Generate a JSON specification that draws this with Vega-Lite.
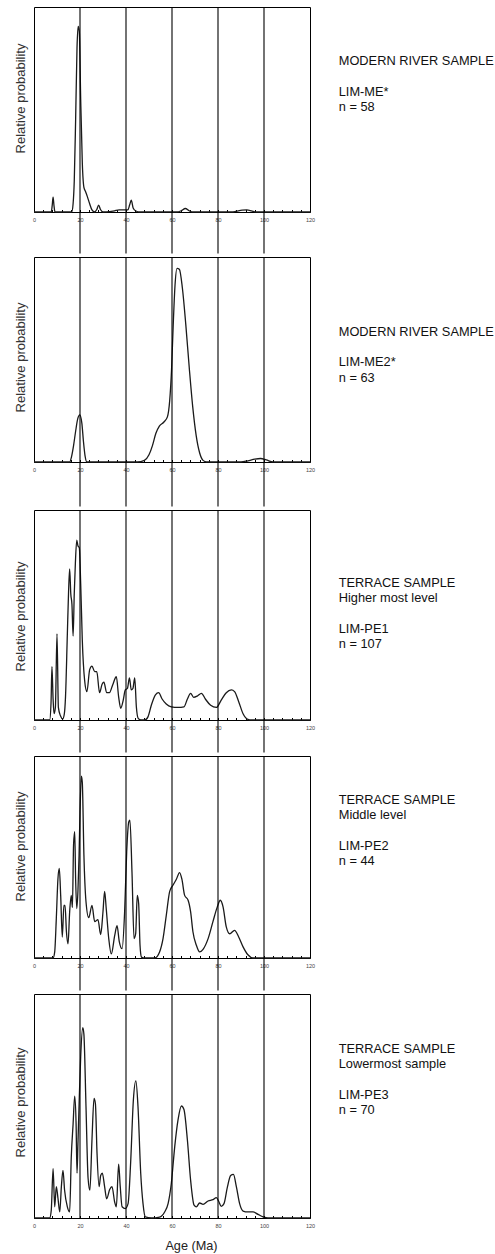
{
"$schema": "https://vega.github.io/schema/vega-lite/v6.json",
"padding": {"left": 13, "top": 5, "right": 0, "bottom": 0},
"background": "white",
"config": {
  "font": "Liberation Sans",
  "view": {"stroke": "#000", "strokeWidth": 1},
  "axis": {"grid": false, "domain": false},
  "axisX": {"tickSize": -2.5, "tickColor": "#000", "tickWidth": 1, "labelPadding": 8, "labelFontSize": 5.5, "labelColor": "#444", "labelFlush": false, "labelOverlap": false, "titleFontSize": 12.7, "titleFontWeight": "normal", "titleColor": "#222", "titlePadding": 10},
  "axisY": {"ticks": false, "labels": false, "minExtent": 0, "titleFontSize": 13, "titleFontWeight": "normal", "titleColor": "#333", "titlePadding": 7},
  "text": {"align": "left", "baseline": "alphabetic", "lineBreak": "\n", "lineHeight": 15.3, "fontSize": 12.8, "color": "#111"}
},
"datasets": {
  "refs": [{"age": 20}, {"age": 40}, {"age": 60}, {"age": 80}, {"age": 100}],
  "notes": [
    {"panel": 1, "head": "MODERN RIVER SAMPLE", "sample": "LIM-ME*\nn = 58"},
    {"panel": 2, "head": "MODERN RIVER SAMPLE", "sample": "LIM-ME2*\nn = 63"},
    {"panel": 3, "head": "TERRACE SAMPLE\nHigher most level", "sample": "LIM-PE1\nn = 107"},
    {"panel": 4, "head": "TERRACE SAMPLE\nMiddle level", "sample": "LIM-PE2\nn = 44"},
    {"panel": 5, "head": "TERRACE SAMPLE\nLowermost sample", "sample": "LIM-PE3\nn = 70"}
  ],
  "curves": [
    {"panel":1,"age":0,"prob":0},{"panel":1,"age":7.5,"prob":0},{"panel":1,"age":7.9,"prob":0.03},{"panel":1,"age":8.3,"prob":0.072},{"panel":1,"age":8.7,"prob":0.03},{"panel":1,"age":9.1,"prob":0},{"panel":1,"age":16.4,"prob":0},{"panel":1,"age":17.0,"prob":0.04},{"panel":1,"age":17.5,"prob":0.15},{"panel":1,"age":18.1,"prob":0.45},{"panel":1,"age":18.7,"prob":0.8},{"panel":1,"age":19.2,"prob":0.905},{"panel":1,"age":19.7,"prob":0.88},{"panel":1,"age":20.3,"prob":0.55},{"panel":1,"age":21.0,"prob":0.24},{"panel":1,"age":21.7,"prob":0.12},{"panel":1,"age":22.4,"prob":0.1},{"panel":1,"age":23.2,"prob":0.075},{"panel":1,"age":24.2,"prob":0.04},{"panel":1,"age":25.2,"prob":0.01},{"panel":1,"age":26.3,"prob":0},{"panel":1,"age":27.3,"prob":0.012},{"panel":1,"age":28.1,"prob":0.034},{"panel":1,"age":28.9,"prob":0.012},{"panel":1,"age":30,"prob":0},{"panel":1,"age":33,"prob":0.002},{"panel":1,"age":35,"prob":0.006},{"panel":1,"age":37,"prob":0.01},{"panel":1,"age":39.5,"prob":0.01},{"panel":1,"age":40.8,"prob":0.01},{"panel":1,"age":41.6,"prob":0.035},{"panel":1,"age":42.3,"prob":0.058},{"panel":1,"age":43.1,"prob":0.02},{"panel":1,"age":44.3,"prob":0.005},{"panel":1,"age":46,"prob":0},{"panel":1,"age":62,"prob":0},{"panel":1,"age":64,"prob":0.006},{"panel":1,"age":65.8,"prob":0.017},{"panel":1,"age":67.5,"prob":0.006},{"panel":1,"age":69,"prob":0},{"panel":1,"age":86,"prob":0},{"panel":1,"age":88,"prob":0.004},{"panel":1,"age":90.5,"prob":0.009},{"panel":1,"age":92.5,"prob":0.01},{"panel":1,"age":94.5,"prob":0.006},{"panel":1,"age":96.5,"prob":0},{"panel":1,"age":120,"prob":0},
    {"panel":2,"age":0,"prob":0},{"panel":2,"age":15.5,"prob":0},{"panel":2,"age":16.3,"prob":0.025},{"panel":2,"age":17.2,"prob":0.08},{"panel":2,"age":18.1,"prob":0.15},{"panel":2,"age":19.0,"prob":0.21},{"panel":2,"age":19.9,"prob":0.23},{"panel":2,"age":20.8,"prob":0.19},{"panel":2,"age":21.5,"prob":0.1},{"panel":2,"age":22.2,"prob":0.03},{"panel":2,"age":23,"prob":0},{"panel":2,"age":45,"prob":0},{"panel":2,"age":48,"prob":0.008},{"panel":2,"age":50,"prob":0.035},{"panel":2,"age":51.5,"prob":0.08},{"panel":2,"age":53,"prob":0.14},{"panel":2,"age":54.5,"prob":0.175},{"panel":2,"age":56.5,"prob":0.195},{"panel":2,"age":58,"prob":0.22},{"panel":2,"age":59,"prob":0.3},{"panel":2,"age":59.8,"prob":0.45},{"panel":2,"age":60.5,"prob":0.66},{"panel":2,"age":61.3,"prob":0.86},{"panel":2,"age":62.2,"prob":0.945},{"panel":2,"age":63.2,"prob":0.94},{"panel":2,"age":64.5,"prob":0.85},{"panel":2,"age":66,"prob":0.67},{"panel":2,"age":67.5,"prob":0.46},{"panel":2,"age":69,"prob":0.27},{"panel":2,"age":70.5,"prob":0.13},{"panel":2,"age":72,"prob":0.045},{"panel":2,"age":73.5,"prob":0.008},{"panel":2,"age":75,"prob":0},{"panel":2,"age":90,"prob":0},{"panel":2,"age":93,"prob":0.006},{"panel":2,"age":96,"prob":0.014},{"panel":2,"age":98.5,"prob":0.017},{"panel":2,"age":101,"prob":0.01},{"panel":2,"age":104,"prob":0},{"panel":2,"age":120,"prob":0},
    {"panel":3,"age":0,"prob":0},{"panel":3,"age":6.8,"prob":0},{"panel":3,"age":7.4,"prob":0.08},{"panel":3,"age":7.8,"prob":0.254},{"panel":3,"age":8.3,"prob":0.1},{"panel":3,"age":8.7,"prob":0.03},{"panel":3,"age":9.3,"prob":0.06},{"panel":3,"age":10.0,"prob":0.41},{"panel":3,"age":10.6,"prob":0.06},{"panel":3,"age":11.5,"prob":0.02},{"panel":3,"age":12.5,"prob":0.005},{"panel":3,"age":13.2,"prob":0.03},{"panel":3,"age":13.7,"prob":0.11},{"panel":3,"age":14.5,"prob":0.41},{"panel":3,"age":15.0,"prob":0.6},{"panel":3,"age":15.5,"prob":0.72},{"panel":3,"age":16.0,"prob":0.6},{"panel":3,"age":16.5,"prob":0.55},{"panel":3,"age":17.0,"prob":0.4},{"panel":3,"age":17.5,"prob":0.6},{"panel":3,"age":18.0,"prob":0.75},{"panel":3,"age":18.6,"prob":0.857},{"panel":3,"age":19.1,"prob":0.83},{"panel":3,"age":19.7,"prob":0.82},{"panel":3,"age":20.3,"prob":0.65},{"panel":3,"age":21.0,"prob":0.38},{"panel":3,"age":22.0,"prob":0.19},{"panel":3,"age":23.0,"prob":0.135},{"panel":3,"age":24.2,"prob":0.24},{"panel":3,"age":25.2,"prob":0.257},{"panel":3,"age":26.4,"prob":0.23},{"panel":3,"age":27.3,"prob":0.23},{"panel":3,"age":28.5,"prob":0.13},{"panel":3,"age":29.6,"prob":0.17},{"panel":3,"age":30.4,"prob":0.18},{"panel":3,"age":31.6,"prob":0.13},{"panel":3,"age":32.8,"prob":0.13},{"panel":3,"age":34.2,"prob":0.167},{"panel":3,"age":35.8,"prob":0.206},{"panel":3,"age":36.8,"prob":0.11},{"panel":3,"age":37.7,"prob":0.056},{"panel":3,"age":38.8,"prob":0.095},{"panel":3,"age":39.7,"prob":0.143},{"panel":3,"age":40.6,"prob":0.15},{"panel":3,"age":41.5,"prob":0.2},{"panel":3,"age":42.3,"prob":0.143},{"panel":3,"age":43.0,"prob":0.15},{"panel":3,"age":43.8,"prob":0.2},{"panel":3,"age":44.5,"prob":0.063},{"panel":3,"age":45.3,"prob":0.008},{"panel":3,"age":46.5,"prob":0},{"panel":3,"age":48.2,"prob":0},{"panel":3,"age":49.6,"prob":0.016},{"panel":3,"age":51,"prob":0.07},{"panel":3,"age":52.8,"prob":0.12},{"panel":3,"age":54.2,"prob":0.13},{"panel":3,"age":55.7,"prob":0.1},{"panel":3,"age":57.5,"prob":0.076},{"panel":3,"age":59.7,"prob":0.063},{"panel":3,"age":62.6,"prob":0.06},{"panel":3,"age":65.2,"prob":0.063},{"panel":3,"age":66.7,"prob":0.1},{"panel":3,"age":68.1,"prob":0.127},{"panel":3,"age":69.4,"prob":0.108},{"panel":3,"age":71,"prob":0.114},{"panel":3,"age":72.8,"prob":0.127},{"panel":3,"age":74.5,"prob":0.1},{"panel":3,"age":76.8,"prob":0.07},{"panel":3,"age":79.3,"prob":0.06},{"panel":3,"age":81.4,"prob":0.095},{"panel":3,"age":83.6,"prob":0.13},{"panel":3,"age":85.8,"prob":0.143},{"panel":3,"age":87.2,"prob":0.135},{"panel":3,"age":89,"prob":0.087},{"panel":3,"age":90.9,"prob":0.03},{"panel":3,"age":93,"prob":0.003},{"panel":3,"age":94.5,"prob":0},{"panel":3,"age":120,"prob":0},
    {"panel":4,"age":0,"prob":0},{"panel":4,"age":8.3,"prob":0},{"panel":4,"age":9.0,"prob":0.03},{"panel":4,"age":9.7,"prob":0.195},{"panel":4,"age":10.4,"prob":0.39},{"panel":4,"age":11.0,"prob":0.443},{"panel":4,"age":11.6,"prob":0.31},{"panel":4,"age":12.3,"prob":0.104},{"panel":4,"age":13.0,"prob":0.26},{"panel":4,"age":13.5,"prob":0.26},{"panel":4,"age":14.1,"prob":0.13},{"panel":4,"age":14.8,"prob":0.07},{"panel":4,"age":15.5,"prob":0.228},{"panel":4,"age":16.2,"prob":0.31},{"panel":4,"age":16.7,"prob":0.25},{"panel":4,"age":17.2,"prob":0.56},{"panel":4,"age":17.7,"prob":0.625},{"panel":4,"age":18.1,"prob":0.39},{"panel":4,"age":18.6,"prob":0.245},{"panel":4,"age":19.1,"prob":0.33},{"panel":4,"age":19.6,"prob":0.51},{"panel":4,"age":20.0,"prob":0.72},{"panel":4,"age":20.6,"prob":0.9},{"panel":4,"age":21.0,"prob":0.87},{"panel":4,"age":21.7,"prob":0.51},{"panel":4,"age":22.6,"prob":0.28},{"panel":4,"age":23.8,"prob":0.2},{"panel":4,"age":25.2,"prob":0.26},{"panel":4,"age":26.4,"prob":0.18},{"panel":4,"age":27.8,"prob":0.19},{"panel":4,"age":29.0,"prob":0.116},{"panel":4,"age":30.0,"prob":0.23},{"panel":4,"age":30.7,"prob":0.33},{"panel":4,"age":31.4,"prob":0.245},{"panel":4,"age":32.5,"prob":0.096},{"panel":4,"age":33.6,"prob":0.02},{"panel":4,"age":35.1,"prob":0.112},{"panel":4,"age":36.1,"prob":0.16},{"panel":4,"age":37.1,"prob":0.08},{"panel":4,"age":38.3,"prob":0.046},{"panel":4,"age":39.4,"prob":0.228},{"panel":4,"age":40.3,"prob":0.525},{"panel":4,"age":41.2,"prob":0.674},{"panel":4,"age":41.7,"prob":0.683},{"panel":4,"age":42.6,"prob":0.426},{"panel":4,"age":43.5,"prob":0.096},{"panel":4,"age":44.2,"prob":0.12},{"panel":4,"age":44.9,"prob":0.31},{"panel":4,"age":45.5,"prob":0.27},{"panel":4,"age":46.1,"prob":0.063},{"panel":4,"age":46.7,"prob":0.005},{"panel":4,"age":47.5,"prob":0},{"panel":4,"age":52.5,"prob":0},{"panel":4,"age":54.6,"prob":0.03},{"panel":4,"age":56.1,"prob":0.096},{"panel":4,"age":57.5,"prob":0.21},{"panel":4,"age":59,"prob":0.33},{"panel":4,"age":60.4,"prob":0.36},{"panel":4,"age":61.9,"prob":0.39},{"panel":4,"age":63.3,"prob":0.423},{"panel":4,"age":64.3,"prob":0.39},{"panel":4,"age":65.5,"prob":0.31},{"panel":4,"age":67,"prob":0.286},{"panel":4,"age":68.1,"prob":0.228},{"panel":4,"age":69.1,"prob":0.13},{"panel":4,"age":70.6,"prob":0.063},{"panel":4,"age":72,"prob":0.03},{"panel":4,"age":73.5,"prob":0.043},{"panel":4,"age":75.7,"prob":0.096},{"panel":4,"age":77.8,"prob":0.18},{"panel":4,"age":79.7,"prob":0.253},{"panel":4,"age":81,"prob":0.286},{"panel":4,"age":82.2,"prob":0.253},{"panel":4,"age":83.6,"prob":0.154},{"panel":4,"age":85.1,"prob":0.12},{"panel":4,"age":87.2,"prob":0.137},{"panel":4,"age":89,"prob":0.104},{"panel":4,"age":90.9,"prob":0.055},{"panel":4,"age":93,"prob":0.016},{"panel":4,"age":95.2,"prob":0},{"panel":4,"age":120,"prob":0},
    {"panel":5,"age":0,"prob":0},{"panel":5,"age":6.8,"prob":0},{"panel":5,"age":7.5,"prob":0.034},{"panel":5,"age":8.3,"prob":0.22},{"panel":5,"age":9.0,"prob":0.05},{"panel":5,"age":9.7,"prob":0.14},{"panel":5,"age":10.4,"prob":0.09},{"panel":5,"age":11.2,"prob":0.027},{"panel":5,"age":11.9,"prob":0.14},{"panel":5,"age":12.6,"prob":0.213},{"panel":5,"age":13.3,"prob":0.124},{"panel":5,"age":14.5,"prob":0.05},{"panel":5,"age":15.5,"prob":0.027},{"panel":5,"age":16.2,"prob":0.27},{"panel":5,"age":17.0,"prob":0.42},{"panel":5,"age":17.7,"prob":0.544},{"panel":5,"age":18.3,"prob":0.42},{"panel":5,"age":18.7,"prob":0.2},{"panel":5,"age":19.1,"prob":0.33},{"panel":5,"age":19.7,"prob":0.54},{"panel":5,"age":20.3,"prob":0.72},{"panel":5,"age":21.2,"prob":0.85},{"panel":5,"age":21.7,"prob":0.82},{"panel":5,"age":22.6,"prob":0.5},{"panel":5,"age":23.5,"prob":0.18},{"panel":5,"age":24.3,"prob":0.124},{"panel":5,"age":25.2,"prob":0.347},{"panel":5,"age":26.1,"prob":0.534},{"panel":5,"age":26.7,"prob":0.51},{"panel":5,"age":27.4,"prob":0.29},{"panel":5,"age":28.3,"prob":0.14},{"panel":5,"age":29.0,"prob":0.19},{"panel":5,"age":29.7,"prob":0.2},{"panel":5,"age":30.7,"prob":0.14},{"panel":5,"age":31.6,"prob":0.086},{"panel":5,"age":32.9,"prob":0.127},{"panel":5,"age":33.9,"prob":0.14},{"panel":5,"age":35.1,"prob":0.07},{"panel":5,"age":35.8,"prob":0.05},{"panel":5,"age":36.8,"prob":0.24},{"panel":5,"age":37.5,"prob":0.14},{"panel":5,"age":38.3,"prob":0.05},{"panel":5,"age":39.7,"prob":0.042},{"panel":5,"age":40.9,"prob":0.064},{"panel":5,"age":42,"prob":0.243},{"panel":5,"age":43.2,"prob":0.526},{"panel":5,"age":44.3,"prob":0.612},{"panel":5,"age":45.2,"prob":0.5},{"panel":5,"age":46.4,"prob":0.2},{"panel":5,"age":47.4,"prob":0.064},{"panel":5,"age":48.4,"prob":0.005},{"panel":5,"age":51,"prob":0},{"panel":5,"age":54.6,"prob":0.004},{"panel":5,"age":56.8,"prob":0.027},{"panel":5,"age":58.3,"prob":0.064},{"panel":5,"age":59.7,"prob":0.154},{"panel":5,"age":61.2,"prob":0.32},{"panel":5,"age":62.6,"prob":0.437},{"panel":5,"age":64.1,"prob":0.5},{"panel":5,"age":65.2,"prob":0.484},{"panel":5,"age":66.7,"prob":0.347},{"panel":5,"age":68.1,"prob":0.168},{"panel":5,"age":69.6,"prob":0.057},{"panel":5,"age":70.6,"prob":0.05},{"panel":5,"age":72,"prob":0.067},{"panel":5,"age":73.5,"prob":0.061},{"panel":5,"age":75.7,"prob":0.076},{"panel":5,"age":77.8,"prob":0.082},{"panel":5,"age":79.3,"prob":0.091},{"panel":5,"age":80.3,"prob":0.075},{"panel":5,"age":81.4,"prob":0.052},{"panel":5,"age":82.6,"prob":0.064},{"panel":5,"age":84.1,"prob":0.139},{"panel":5,"age":85.5,"prob":0.19},{"panel":5,"age":86.7,"prob":0.195},{"panel":5,"age":88,"prob":0.139},{"panel":5,"age":89.4,"prob":0.064},{"panel":5,"age":90.9,"prob":0.031},{"panel":5,"age":93,"prob":0.027},{"panel":5,"age":95.2,"prob":0.027},{"panel":5,"age":97.4,"prob":0.016},{"panel":5,"age":99.6,"prob":0.005},{"panel":5,"age":101.7,"prob":0},{"panel":5,"age":120,"prob":0}
  ]
},
"spacing": 0,
"vconcat": [
  {"width": 276, "height": 205,
   "encoding": {"x": {"type": "quantitative", "scale": {"domain": [0, 120], "nice": false}, "axis": {"title": null, "values": [0,4,8,12,16,20,24,28,32,36,40,44,48,52,56,60,64,68,72,76,80,84,88,92,96,100,104,108,112,116,120], "labelExpr": "datum.value % 20 === 0 ? datum.label : ''"}}},
   "layer": [
    {"data": {"name": "curves"}, "transform": [{"filter": "datum.panel == 1"}], "mark": {"type": "line", "interpolate": "monotone", "stroke": "#1a1a1a", "strokeWidth": 1.3},
     "encoding": {"x": {"field": "age"}, "y": {"field": "prob", "type": "quantitative", "scale": {"domain": [0, 1], "nice": false}, "axis": {"title": "Relative probability", "titleY": 91}}}},
    {"data": {"name": "refs"}, "mark": {"type": "rule", "stroke": "#000", "strokeWidth": 1.1},
     "encoding": {"x": {"field": "age"}, "y": {"datum": 1, "type": "quantitative", "scale": {"domain": [0, 1], "nice": false}, "axis": {"title": "Relative probability", "titleY": 91}}, "y2": {"datum": -0.2024}}},
    {"data": {"name": "notes"}, "transform": [{"filter": "datum.panel == 1"}], "mark": {"type": "text"},
     "encoding": {"x": {"datum": 132.5}, "y": {"datum": 0.717, "type": "quantitative", "scale": {"domain": [0, 1], "nice": false}, "axis": {"title": "Relative probability", "titleY": 91}}, "text": {"field": "head"}}},
    {"data": {"name": "notes"}, "transform": [{"filter": "datum.panel == 1"}], "mark": {"type": "text"},
     "encoding": {"x": {"datum": 132.5}, "y": {"datum": 0.568, "type": "quantitative", "scale": {"domain": [0, 1], "nice": false}, "axis": {"title": "Relative probability", "titleY": 91}}, "text": {"field": "sample"}}}
  ]},
  {"width": 276, "height": 205,
   "encoding": {"x": {"type": "quantitative", "scale": {"domain": [0, 120], "nice": false}, "axis": {"title": null, "values": [0,4,8,12,16,20,24,28,32,36,40,44,48,52,56,60,64,68,72,76,80,84,88,92,96,100,104,108,112,116,120], "labelExpr": "datum.value % 20 === 0 ? datum.label : ''"}}},
   "layer": [
    {"data": {"name": "curves"}, "transform": [{"filter": "datum.panel == 2"}], "mark": {"type": "line", "interpolate": "monotone", "stroke": "#1a1a1a", "strokeWidth": 1.3},
     "encoding": {"x": {"field": "age"}, "y": {"field": "prob", "type": "quantitative", "scale": {"domain": [0, 1], "nice": false}, "axis": {"title": "Relative probability", "titleY": 100}}}},
    {"data": {"name": "refs"}, "mark": {"type": "rule", "stroke": "#000", "strokeWidth": 1.1},
     "encoding": {"x": {"field": "age"}, "y": {"datum": 1, "type": "quantitative", "scale": {"domain": [0, 1], "nice": false}, "axis": {"title": "Relative probability", "titleY": 100}}, "y2": {"datum": -0.217}}},
    {"data": {"name": "notes"}, "transform": [{"filter": "datum.panel == 2"}], "mark": {"type": "text"},
     "encoding": {"x": {"datum": 132.5}, "y": {"datum": 0.615, "type": "quantitative", "scale": {"domain": [0, 1], "nice": false}, "axis": {"title": "Relative probability", "titleY": 100}}, "text": {"field": "head"}}},
    {"data": {"name": "notes"}, "transform": [{"filter": "datum.panel == 2"}], "mark": {"type": "text"},
     "encoding": {"x": {"datum": 132.5}, "y": {"datum": 0.466, "type": "quantitative", "scale": {"domain": [0, 1], "nice": false}, "axis": {"title": "Relative probability", "titleY": 100}}, "text": {"field": "sample"}}}
  ]},
  {"width": 276, "height": 210,
   "encoding": {"x": {"type": "quantitative", "scale": {"domain": [0, 120], "nice": false}, "axis": {"title": null, "values": [0,4,8,12,16,20,24,28,32,36,40,44,48,52,56,60,64,68,72,76,80,84,88,92,96,100,104,108,112,116,120], "labelExpr": "datum.value % 20 === 0 ? datum.label : ''"}}},
   "layer": [
    {"data": {"name": "curves"}, "transform": [{"filter": "datum.panel == 3"}], "mark": {"type": "line", "interpolate": "monotone", "stroke": "#1a1a1a", "strokeWidth": 1.3},
     "encoding": {"x": {"field": "age"}, "y": {"field": "prob", "type": "quantitative", "scale": {"domain": [0, 1], "nice": false}, "axis": {"title": "Relative probability", "titleY": 106}}}},
    {"data": {"name": "refs"}, "mark": {"type": "rule", "stroke": "#000", "strokeWidth": 1.1},
     "encoding": {"x": {"field": "age"}, "y": {"datum": 1, "type": "quantitative", "scale": {"domain": [0, 1], "nice": false}, "axis": {"title": "Relative probability", "titleY": 106}}, "y2": {"datum": -0.155}}},
    {"data": {"name": "notes"}, "transform": [{"filter": "datum.panel == 3"}], "mark": {"type": "text"},
     "encoding": {"x": {"datum": 132.5}, "y": {"datum": 0.633, "type": "quantitative", "scale": {"domain": [0, 1], "nice": false}, "axis": {"title": "Relative probability", "titleY": 106}}, "text": {"field": "head"}}},
    {"data": {"name": "notes"}, "transform": [{"filter": "datum.panel == 3"}], "mark": {"type": "text"},
     "encoding": {"x": {"datum": 132.5}, "y": {"datum": 0.414, "type": "quantitative", "scale": {"domain": [0, 1], "nice": false}, "axis": {"title": "Relative probability", "titleY": 106}}, "text": {"field": "sample"}}}
  ]},
  {"width": 276, "height": 202,
   "encoding": {"x": {"type": "quantitative", "scale": {"domain": [0, 120], "nice": false}, "axis": {"title": null, "values": [0,4,8,12,16,20,24,28,32,36,40,44,48,52,56,60,64,68,72,76,80,84,88,92,96,100,104,108,112,116,120], "labelExpr": "datum.value % 20 === 0 ? datum.label : ''"}}},
   "layer": [
    {"data": {"name": "curves"}, "transform": [{"filter": "datum.panel == 4"}], "mark": {"type": "line", "interpolate": "monotone", "stroke": "#1a1a1a", "strokeWidth": 1.3},
     "encoding": {"x": {"field": "age"}, "y": {"field": "prob", "type": "quantitative", "scale": {"domain": [0, 1], "nice": false}, "axis": {"title": "Relative probability", "titleY": 90}}}},
    {"data": {"name": "refs"}, "mark": {"type": "rule", "stroke": "#000", "strokeWidth": 1.1},
     "encoding": {"x": {"field": "age"}, "y": {"datum": 1, "type": "quantitative", "scale": {"domain": [0, 1], "nice": false}, "axis": {"title": "Relative probability", "titleY": 90}}, "y2": {"datum": -0.161}}},
    {"data": {"name": "notes"}, "transform": [{"filter": "datum.panel == 4"}], "mark": {"type": "text"},
     "encoding": {"x": {"datum": 132.5}, "y": {"datum": 0.762, "type": "quantitative", "scale": {"domain": [0, 1], "nice": false}, "axis": {"title": "Relative probability", "titleY": 90}}, "text": {"field": "head"}}},
    {"data": {"name": "notes"}, "transform": [{"filter": "datum.panel == 4"}], "mark": {"type": "text"},
     "encoding": {"x": {"datum": 132.5}, "y": {"datum": 0.535, "type": "quantitative", "scale": {"domain": [0, 1], "nice": false}, "axis": {"title": "Relative probability", "titleY": 90}}, "text": {"field": "sample"}}}
  ]},
  {"width": 276, "height": 224,
   "encoding": {"x": {"type": "quantitative", "scale": {"domain": [0, 120], "nice": false}, "axis": {"title": "Age (Ma)", "titleX": 157, "values": [0,4,8,12,16,20,24,28,32,36,40,44,48,52,56,60,64,68,72,76,80,84,88,92,96,100,104,108,112,116,120], "labelExpr": "datum.value % 20 === 0 ? datum.label : ''"}}},
   "layer": [
    {"data": {"name": "curves"}, "transform": [{"filter": "datum.panel == 5"}], "mark": {"type": "line", "interpolate": "monotone", "stroke": "#1a1a1a", "strokeWidth": 1.3},
     "encoding": {"x": {"field": "age"}, "y": {"field": "prob", "type": "quantitative", "scale": {"domain": [0, 1], "nice": false}, "axis": {"title": "Relative probability", "titleY": 108}}}},
    {"data": {"name": "refs"}, "mark": {"type": "rule", "stroke": "#000", "strokeWidth": 1.1},
     "encoding": {"x": {"field": "age"}, "y": {"datum": 1, "type": "quantitative", "scale": {"domain": [0, 1], "nice": false}, "axis": {"title": "Relative probability", "titleY": 108}}, "y2": {"datum": 0}}},
    {"data": {"name": "notes"}, "transform": [{"filter": "datum.panel == 5"}], "mark": {"type": "text"},
     "encoding": {"x": {"datum": 132.5}, "y": {"datum": 0.737, "type": "quantitative", "scale": {"domain": [0, 1], "nice": false}, "axis": {"title": "Relative probability", "titleY": 108}}, "text": {"field": "head"}}},
    {"data": {"name": "notes"}, "transform": [{"filter": "datum.panel == 5"}], "mark": {"type": "text"},
     "encoding": {"x": {"datum": 132.5}, "y": {"datum": 0.532, "type": "quantitative", "scale": {"domain": [0, 1], "nice": false}, "axis": {"title": "Relative probability", "titleY": 108}}, "text": {"field": "sample"}}}
  ]}
]
}
